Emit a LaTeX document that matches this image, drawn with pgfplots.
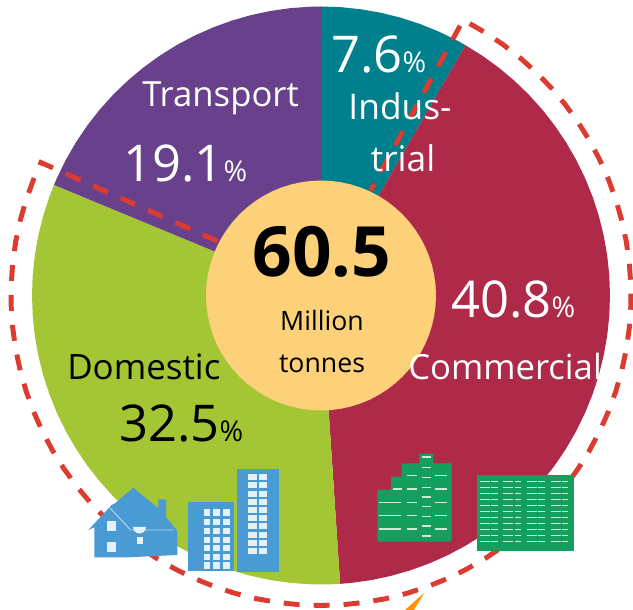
\documentclass[border=0pt]{standalone}
\usepackage{pgfplots}
\pgfplotsset{compat=1.18}
\usepackage{fontspec}
\setmainfont{Open Sans}
\newcommand{\T}[2]{\fontsize{#1}{#1}\selectfont #2}
\definecolor{teal1}{HTML}{007F8C}
\definecolor{red1}{HTML}{AF2A48}
\definecolor{purp}{HTML}{68408B}
\definecolor{grn}{HTML}{A4C634}
\definecolor{mid}{HTML}{FDD07A}
\definecolor{dash}{HTML}{DC3B2F}
\definecolor{blu}{HTML}{4A9BD3}
\definecolor{gic}{HTML}{159F5E}
\definecolor{winb}{HTML}{E4F1FA}
\definecolor{wing}{HTML}{CDEBD9}
\begin{document}
\begin{tikzpicture}
\begin{axis}[at={(0,0)},anchor=south west,width=474.75pt,height=457.5pt,scale only axis,
  xmin=-321,xmax=312,ymin=-314.5,ymax=295.5,ticks=none,axis line style={draw=none},clip=true]
\addplot[data cs=polar,fill=teal1,draw=none] coordinates {(0,0)(90,289)(86,289)(82,289)(78,289)(74,289)(70,289)(66,289)(62,289)(60,289)} --cycle;
\addplot[data cs=polar,fill=red1,draw=none] coordinates {(0,0)(60,289)(56,289)(52,289)(48,289)(44,289)(40,289)(36,289)(32,289)(28,289)(24,289)(20,289)(16,289)(12,289)(8,289)(4,289)(0,289)(-4,289)(-8,289)(-12,289)(-16,289)(-20,289)(-24,289)(-28,289)(-32,289)(-36,289)(-40,289)(-44,289)(-48,289)(-52,289)(-56,289)(-60,289)(-64,289)(-68,289)(-72,289)(-76,289)(-80,289)(-84,289)(-86.2,289)} --cycle;
\addplot[data cs=polar,fill=grn,draw=none] coordinates {(0,0)(-86.2,289)(-88,289)(-92,289)(-96,289)(-100,289)(-104,289)(-108,289)(-112,289)(-116,289)(-120,289)(-124,289)(-128,289)(-132,289)(-136,289)(-140,289)(-144,289)(-148,289)(-152,289)(-156,289)(-160,289)(-164,289)(-168,289)(-172,289)(-176,289)(-180,289)(-184,289)(-188,289)(-192,289)(-196,289)(-200,289)(-202.5,289)} --cycle;
\addplot[data cs=polar,fill=purp,draw=none] coordinates {(0,0)(157.5,289)(156,289)(152,289)(148,289)(144,289)(140,289)(136,289)(132,289)(128,289)(124,289)(120,289)(116,289)(112,289)(108,289)(104,289)(100,289)(96,289)(92,289)(90,289)} --cycle;
% dashed ring
\addplot[data cs=polar,draw=dash,line width=3.7pt,dash pattern=on 12pt off 10.5pt] coordinates {(152.3,117)(154.6,310)(158,310)(162,310)(166,310)(170,310)(174,310)(178,310)(182,310)(186,310)(190,310)(194,310)(198,310)(202,310)(206,310)(210,310)(214,310)(218,310)(222,310)(226,310)(230,310)(234,310)(238,310)(242,310)(246,310)(250,310)(254,310)(258,310)(262,310)(266,310)(270,310)(274,310)(278,310)(282,310)(286,310)(290,310)(294,310)(298,310)(302,310)(306,310)(310,310)(314,310)(318,310)(322,310)(326,310)(330,310)(334,310)(338,310)(342,310)(346,310)(350,310)(354,310)(358,310)(362,310)(366,310)(370,310)(374,310)(378,310)(382,310)(386,310)(390,310)(394,310)(398,310)(402,310)(406,310)(410,310)(414,310)(418,310)(422,310)(422.7,310)(424.7,116)};
% centre disc
\addplot[data cs=polar,fill=mid,draw=none] coordinates {(0,115)(5,115)(10,115)(15,115)(20,115)(25,115)(30,115)(35,115)(40,115)(45,115)(50,115)(55,115)(60,115)(65,115)(70,115)(75,115)(80,115)(85,115)(90,115)(95,115)(100,115)(105,115)(110,115)(115,115)(120,115)(125,115)(130,115)(135,115)(140,115)(145,115)(150,115)(155,115)(160,115)(165,115)(170,115)(175,115)(180,115)(185,115)(190,115)(195,115)(200,115)(205,115)(210,115)(215,115)(220,115)(225,115)(230,115)(235,115)(240,115)(245,115)(250,115)(255,115)(260,115)(265,115)(270,115)(275,115)(280,115)(285,115)(290,115)(295,115)(300,115)(305,115)(310,115)(315,115)(320,115)(325,115)(330,115)(335,115)(340,115)(345,115)(350,115)(355,115)} --cycle;
\end{axis}
\begin{scope}[shift={(0,457.5pt)},x=0.75pt,y=-0.75pt]
% house
\fill[blu] (94.3,557.3)--(94.3,527.3)--(88.3,530)--(111.7,505)--(115,503.3)--(133.3,487.7)--(158.3,508.3)--(158.3,499.3)--(166,499.3)--(166,517.3)--(177.3,530.7)--(177.3,555)--(128.3,557.3)--cycle;
\draw[winb!70!blu,line width=0.7pt] (110,508)--(130.7,530)--(173,530);
\fill[winb] (107,521) rectangle (116,531);
\fill[winb] (107,542) rectangle (116,552);
\fill[winb] (133,527) arc[start angle=180,end angle=0,radius=6.5] --cycle;
\fill[winb] (137,537) rectangle (143,544);
% building 1
\fill[blu] (188.3,501.7) rectangle (234,570.7);
\foreach \y in {512.7,522,531,540,548.3,557.3,565.7}{
  \foreach \x in {203.5,213,223}{\fill[winb] (\x,\y-3.2) rectangle (\x+6.6,\y+3.2);}}
% building 2
\fill[blu] (236.7,469.3) rectangle (279.3,571.7);
\foreach \y in {477.3,485.5,493.7,501.9,510.1,518.3,526.5,534.7,542.9,551.1}{
  \foreach \x in {248.3,259}{\fill[winb] (\x,\y-3) rectangle (\x+8.4,\y+3);}}
% green building A
\fill[gic] (377.3,541.7)--(377.3,490)--(391,490)--(391,476.7)--(401.7,476.7)--(401.7,463.3)--(419.3,463.3)--(419.3,454)--(433.3,454)--(433.3,463.3)--(451.7,463.3)--(451.7,541.7)--cycle;
\foreach \y in {457.3,467.7,477.7,487.7,497.3,506.7,516.7,526,536}{\draw[wing,line width=1.2pt] (421.7,\y)--(430.7,\y);}
\foreach \y in {475.7,489,502.3,515.7,529}{\draw[wing,line width=0.9pt] (435,\y)--(446.7,\y);\draw[wing,line width=0.9pt] (406.7,\y)--(416.7,\y);}
\foreach \y in {502.3,515.7,529}{\draw[wing,line width=0.9pt] (379.3,\y)--(400.7,\y);}
\draw[wing,line width=0.9pt] (393,489)--(401.7,489);
% green building B
\fill[gic] (476.7,475) rectangle (574.3,550.7);
\foreach \k in {481.7,487.7,493.7,499.7,505.7,511.7,517.7,523.7,529.7,535.7,541.7}{
  \draw[wing,line width=1pt,dash pattern=on 7.5pt off 1pt on 5pt off 9pt] (480,\k)--(498.3,\k);
  \draw[wing,line width=1pt,dash pattern=on 7.5pt off 1pt on 5pt off 9pt] (503.3,\k)--(521,\k);
  \draw[wing,line width=1pt,dash pattern=on 7.5pt off 1pt on 5pt off 9pt] (526.7,\k)--(545,\k);
  \draw[wing,line width=1pt,dash pattern=on 7.5pt off 1pt on 5pt off 9pt] (551,\k)--(568.3,\k);}
% arrow
\fill[orange!85!yellow] (424.3,592.7)--(405,610)--(414,610)--cycle;
% labels
\tikzset{lab/.style={inner sep=0pt,anchor=base west}}
\node[lab,white] at (142,107) {\T{26pt}{Transport}};
\node[lab,white] at (123,182) {\T{38pt}{19.1}\T{21.5pt}{\%}};
\node[lab,white] at (331,73) {\T{38pt}{7.6}\T{21.5pt}{\%}};
\node[white,inner sep=0pt,anchor=base] at (400,120) {\T{26.5pt}{Indus-}};
\node[white,inner sep=0pt,anchor=base] at (403,172) {\T{26.5pt}{trial}};
\node[black,inner sep=0pt,anchor=base] at (322,277) {\T{52pt}{\bfseries 60.5}};
\node[black,inner sep=0pt,anchor=base] at (322,331) {\T{20pt}{Million}};
\node[black,inner sep=0pt,anchor=base] at (322,373) {\T{20pt}{tonnes}};
\node[lab,white] at (451,318) {\T{38pt}{40.8}\T{21.5pt}{\%}};
\node[lab,white] at (408,380) {\T{26pt}{Commercial}};
\node[lab,black] at (67,380) {\T{26.2pt}{Domestic}};
\node[lab,black] at (119,442) {\T{38pt}{32.5}\T{21.5pt}{\%}};
\end{scope}
\end{tikzpicture}
\end{document}
